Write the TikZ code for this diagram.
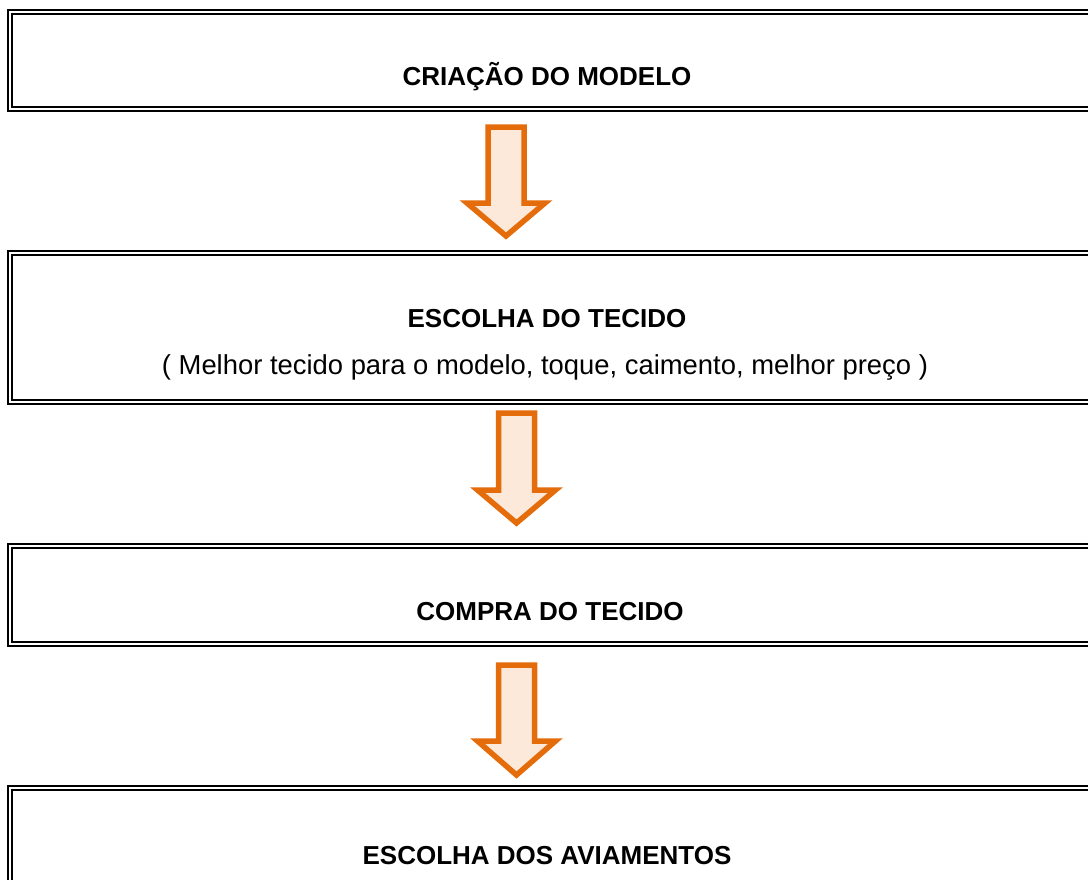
\documentclass[tikz,border=0pt]{standalone}
\usepackage{fontspec}
\setmainfont{Liberation Sans}
\definecolor{laranja}{HTML}{E46C0A}
\definecolor{pessego}{HTML}{FDE9D9}
\tikzset{
  caixa/.style={draw, double, line width=2.4pt, double distance=2pt, rectangle, inner sep=0pt, minimum width=1090pt},
  titulo/.style={font=\bfseries\fontsize{26}{31}\selectfont, anchor=base, inner sep=0pt},
  nota/.style={font=\fontsize{27.4}{33}\selectfont, anchor=base, inner sep=0pt},
  seta/.style={draw=laranja, fill=pessego, line width=5.5pt, line join=miter}
}
\begin{document}
\begin{tikzpicture}[x=1pt, y=-1pt]
\useasboundingbox (0,0) rectangle (1088,879);
\clip (0,0) rectangle (1088,879);
\node (criacao)[caixa, minimum height=97pt]  at (555,60.5) {};
\node (escolha)[caixa, minimum height=149pt] at (555,327.5) {};
\node (compra)[caixa, minimum height=98pt]   at (555,595) {};
\node (aviam)[caixa, minimum height=112pt]   at (555,844) {};
\node (t1)[titulo] at (547,85)  {CRIAÇÃO DO MODELO};
\node (t2)[titulo] at (547,327) {ESCOLHA DO TECIDO};
\node (n2)[nota]   at (545,374) {( Melhor tecido para o modelo, toque, caimento, melhor preço )};
\node (t3)[titulo] at (550,620) {COMPRA DO TECIDO};
\node (t4)[titulo] at (547,864) {ESCOLHA DOS AVIAMENTOS};
\coordinate (s1) at (506,127);
\coordinate (s2) at (516.5,413);
\coordinate (s3) at (516.5,665);
\draw[seta] (s1) ++(-18,0) -- ++(0,76) -- ++(-21,0) -- ++(39,33) -- ++(39,-33) -- ++(-21,0) -- ++(0,-76) -- cycle;
\draw[seta] (s2) ++(-18,0) -- ++(0,77) -- ++(-21,0) -- ++(39,33) -- ++(39,-33) -- ++(-21,0) -- ++(0,-77) -- cycle;
\draw[seta] (s3) ++(-18,0) -- ++(0,76) -- ++(-21,0) -- ++(39,34) -- ++(39,-34) -- ++(-21,0) -- ++(0,-76) -- cycle;
\end{tikzpicture}
\end{document}
